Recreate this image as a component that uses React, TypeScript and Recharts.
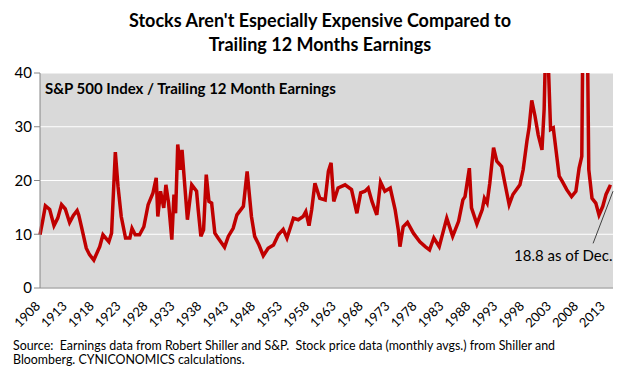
import {
  CartesianGrid,
  Line,
  LineChart,
  ReferenceDot,
  ReferenceLine,
  XAxis,
  YAxis,
} from "recharts";

// time (decimal year) and P/E; spikes above 40 get clipped
const years = [
  1908.0, 1908.5, 1909.0, 1909.8, 1910.6, 1911.3, 1912.0, 1912.7, 1913.5, 1914.2,
  1914.9, 1915.2, 1915.7, 1916.6, 1917.2, 1918.0, 1919.1, 1919.7, 1920.8, 1921.3,
  1922.0, 1922.5, 1923.1, 1923.9, 1924.7, 1925.1, 1925.7, 1926.5, 1927.3, 1928.1,
  1929.0, 1929.6, 1929.9, 1930.4, 1931.0, 1931.4, 1931.9, 1932.5, 1932.9, 1933.2,
  1933.6, 1934.1, 1934.4, 1934.9, 1935.4, 1936.2, 1937.1, 1937.4, 1937.9, 1938.4,
  1938.9, 1939.4, 1939.9, 1940.5, 1941.1, 1942.3, 1943.0, 1943.9, 1944.6, 1945.8,
  1946.5, 1947.3, 1947.9, 1948.7, 1949.5, 1950.4, 1951.4, 1952.3, 1953.2, 1953.9,
  1955.1, 1956.0, 1956.9, 1957.4, 1958.0, 1958.5, 1959.1, 1960.0, 1961.0, 1961.6,
  1962.1, 1962.6, 1963.4, 1964.7, 1965.9, 1966.9, 1967.6, 1968.4, 1969.0, 1969.7,
  1970.6, 1971.3, 1972.1, 1973.1, 1974.0, 1974.6, 1974.9, 1975.5, 1976.3, 1977.4,
  1978.6, 1979.6, 1980.4, 1981.2, 1982.2, 1983.6, 1984.7, 1985.8, 1986.6, 1987.0,
  1987.8, 1988.2, 1989.2, 1990.2, 1990.6, 1991.1, 1991.6, 1992.3, 1992.9, 1993.8,
  1994.4, 1995.2, 1995.9, 1997.2, 1997.8, 1998.5, 1998.9, 1999.4, 2000.0, 2000.6,
  2001.3, 2001.7, 2002.0, 2002.4, 2002.9, 2003.4, 2003.9, 2004.5, 2005.1, 2005.9,
  2006.8, 2007.6, 2008.2, 2008.7, 2009.1, 2009.4, 2009.6, 2010.0, 2010.6, 2011.3,
  2011.9, 2012.6, 2013.2, 2013.9, 2014.2,
];

const peRatio = [
  9.9, 12.5, 15.3, 14.6, 11.6, 13.0, 15.5, 14.7, 12.2, 13.5,
  14.4, 13.6, 11.4, 7.4, 6.2, 5.2, 7.7, 9.9, 8.6, 10.2,
  25.3, 18.9, 13.3, 9.3, 9.3, 11.1, 9.9, 9.9, 11.4, 15.5,
  17.7, 20.5, 13.3, 18.0, 14.9, 19.2, 15.8, 9.0, 17.4, 13.9,
  26.7, 22.0, 25.7, 19.2, 12.7, 19.2, 18.0, 14.6, 9.6, 10.8,
  21.1, 16.1, 15.8, 10.2, 9.3, 7.6, 9.6, 11.1, 13.6, 15.2,
  21.7, 13.3, 9.6, 8.0, 6.0, 7.4, 8.0, 9.9, 10.9, 9.3,
  13.0, 12.7, 13.3, 14.2, 11.6, 14.6, 19.5, 16.7, 16.4, 21.7,
  23.3, 16.1, 18.6, 19.2, 18.3, 13.9, 17.7, 18.0, 18.6, 16.1,
  13.6, 19.7, 18.0, 18.6, 14.6, 10.8, 7.7, 11.4, 12.2, 10.2,
  8.6, 7.7, 7.1, 9.3, 7.7, 13.0, 9.6, 12.4, 16.4, 17.0,
  22.3, 14.9, 11.9, 14.6, 16.7, 15.8, 19.5, 26.1, 23.6, 22.6,
  19.5, 15.5, 17.4, 19.2, 22.0, 27.3, 29.8, 34.9, 32.0, 28.5,
  25.7, 33.2, 46.0, 44.0, 29.5, 29.8, 25.7, 20.8, 19.8, 18.3,
  17.0, 18.0, 22.3, 24.5, 70.0, 123.0, 60.0, 22.0, 16.7, 15.8,
  13.6, 15.2, 17.4, 18.9, 18.8,
];

const yearTicks = [
  1908, 1913, 1918, 1923, 1928, 1933, 1938, 1943, 1948, 1953, 1958,
  1963, 1968, 1973, 1978, 1983, 1988, 1993, 1998, 2003, 2008, 2013,
];
const valueTicks = [0, 10, 20, 30, 40];

const data = years.map((t, i) => ({ t, pe: peRatio[i] }));

const font = "Lato, 'Open Sans', sans-serif";

// slanted year label: text laid along a 45° path ending just under the tick
function YearLabel({ viewBox, year }: any) {
  const ex = viewBox.x + 1;
  const ey = viewBox.y + 19;
  const id = `yr-${year}`;
  return (
    <g>
      <defs>
        <path id={id} d={`M ${ex - 50} ${ey + 50} L ${ex} ${ey}`} />
      </defs>
      <text fontFamily={font} fontSize={13} fill="#000">
        <textPath href={`#${id}`} startOffset="100%" textAnchor="end">
          {year}
        </textPath>
      </text>
    </g>
  );
}

function NoteLabel({ viewBox }: any) {
  return (
    <text
      x={viewBox.x}
      y={viewBox.y}
      textAnchor="end"
      dominantBaseline="central"
      fontFamily={font}
      fontSize={15}
      fill="#000"
    >
      18.8 as of Dec.
    </text>
  );
}

export default function App() {
  return (
    <div style={{ position: "relative", width: 640, height: 373, background: "#fff", fontFamily: font }}>
      <style>{"body{margin:0}"}</style>
      <div
        style={{
          position: "absolute",
          top: 8,
          left: 0,
          width: 640,
          textAlign: "center",
          fontWeight: 700,
          fontSize: 18,
          lineHeight: "24px",
        }}
      >
        Stocks Aren't Especially Expensive Compared to
        <br />
        Trailing 12 Months Earnings
      </div>
      <LineChart
        width={640}
        height={373}
        data={data}
        margin={{ top: 73, right: 27, left: 8, bottom: 45 }}
      >
        <CartesianGrid vertical={false} stroke="#fff" strokeWidth={1} fill="#d9d9d9" />
        <XAxis
          dataKey="t"
          type="number"
          domain={[1908, 2014.5]}
          ticks={yearTicks}
          interval={0}
          height={40}
          tick={false}
          tickSize={5}
          axisLine={{ stroke: "#868686" }}
          tickLine={{ stroke: "#868686" }}
        />
        <YAxis
          type="number"
          domain={[0, 40]}
          ticks={valueTicks}
          allowDataOverflow
          width={32}
          tickSize={6}
          tick={{ fill: "#000", fontSize: 15, fontFamily: font }}
          axisLine={{ stroke: "#868686" }}
          tickLine={{ stroke: "#868686" }}
        />
        <Line
          type="linear"
          dataKey="pe"
          stroke="#c00000"
          strokeWidth={3.5}
          dot={false}
          isAnimationActive={false}
        />
        <ReferenceLine
          segment={[
            { x: 2014.5, y: 18.0 },
            { x: 2010.8, y: 8.3 },
          ]}
          stroke="#404040"
          strokeWidth={1}
        />
        <ReferenceDot x={2014.4} y={6.2} r={0} fill="none" stroke="none" label={<NoteLabel />} />
        {yearTicks.map((yr) => (
          <ReferenceDot
            key={yr}
            x={yr}
            y={0}
            r={0}
            fill="none"
            stroke="none"
            ifOverflow="visible"
            label={<YearLabel year={yr} />}
          />
        ))}
      </LineChart>
      <div
        style={{
          position: "absolute",
          left: 45,
          top: 79,
          fontWeight: 700,
          fontSize: 15,
        }}
      >
        S&amp;P 500 Index / Trailing 12 Month Earnings
      </div>
      <div
        style={{
          position: "absolute",
          left: 13,
          top: 339,
          fontSize: 12.4,
          lineHeight: "14px",
          color: "#000",
        }}
      >
        Source:&nbsp; Earnings data from Robert Shiller and S&amp;P.&nbsp; Stock price data (monthly avgs.) from Shiller and
        <br />
        Bloomberg. CYNICONOMICS calculations.
      </div>
    </div>
  );
}
